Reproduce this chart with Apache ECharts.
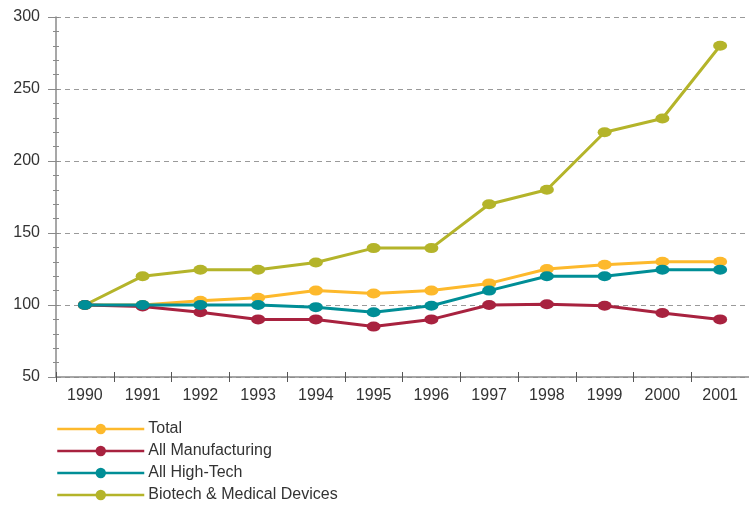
<!DOCTYPE html>
<html>
<head>
<meta charset="utf-8">
<script src="https://cdn.jsdelivr.net/npm/echarts@6/dist/echarts.min.js"></script>
<style>
  html, body { margin: 0; padding: 0; background: #fff; }
  #chart { width: 749px; height: 506px; }
</style>
</head>
<body>
<div id="chart"></div>
<script>
// years on the x axis
const years = ['1990', '1991', '1992', '1993', '1994', '1995', '1996', '1997', '1998', '1999', '2000', '2001']
// index values (1990 = 100)
const total = [100, 100, 103, 105, 110, 108, 110, 115, 125, 128, 130, 130]
const manufacturing = [100, 99, 95, 90, 90, 85, 90, 100, 100.5, 99.5, 94.5, 90]
const highTech = [100, 100, 100, 100, 98.5, 95, 99.5, 110, 120, 120, 124.5, 124.5]
const biotech = [100, 120, 124.5, 124.5, 129.5, 139.5, 139.5, 170, 180, 220, 229.5, 280]

const seriesNames = ['Total', 'All Manufacturing', 'All High-Tech', 'Biotech & Medical Devices']
const seriesColors = ['#fdb92c', '#a8223f', '#008e96', '#b4b42a']
const seriesData = [total, manufacturing, highTech, biotech]

const font = 'Liberation Sans, Arial, sans-serif'
const axisGray = '#8a8a8a'

const chart = echarts.init(document.getElementById('chart'))

// draw order: biotech first so the lower lines sit on top like the original
const order = [3, 0, 1, 2]

const option = {
  animation: false,
  grid: {
    left: 56,
    top: 17,
    width: 700,
    height: 360,
    containLabel: false
  },
  legend: {
    orient: 'vertical',
    left: 56,
    top: 421,
    padding: 0,
    itemWidth: 87,
    itemHeight: 13,
    itemGap: 6,
    data: seriesNames,
    lineStyle: { width: 2.5 },
    textStyle: { fontFamily: font, fontSize: 16, color: '#333', padding: [0, 0, 0, -1] }
  },
  xAxis: [
    {
      type: 'category',
      data: years,
      boundaryGap: true,
      axisLine: { lineStyle: { color: axisGray, width: 1.5 } },
      axisTick: { show: true, length: 5, lineStyle: { color: '#555', width: 1 } },
      axisLabel: { fontFamily: font, fontSize: 16, color: '#333', margin: 11 }
    },
    {
      // copy of the axis to draw the tick marks on the inner side too
      type: 'category',
      data: years,
      position: 'bottom',
      boundaryGap: true,
      axisLine: { show: false },
      axisTick: { show: true, inside: true, length: 5, lineStyle: { color: '#555', width: 1 } },
      axisLabel: { show: false }
    }
  ],
  yAxis: [
    {
      type: 'value',
      min: 50,
      max: 300,
      interval: 50,
      axisLine: { show: true, lineStyle: { color: axisGray, width: 1.5 } },
      axisTick: { show: true, length: 8, lineStyle: { color: axisGray } },
      minorTick: { show: true, splitNumber: 5, length: 3, lineStyle: { color: axisGray } },
      axisLabel: { fontFamily: font, fontSize: 16, color: '#333', margin: 16 },
      splitLine: {
        show: true,
        lineStyle: { color: '#9a9a9a', type: [5, 4], width: 1 }
      }
    },
    {
      // second copy only for the minor ticks on the inner side
      type: 'value',
      position: 'left',
      min: 50,
      max: 300,
      interval: 50,
      axisLine: { show: false },
      axisTick: { show: true, inside: true, length: 3, lineStyle: { color: axisGray } },
      minorTick: { show: true, splitNumber: 5, length: 3, lineStyle: { color: axisGray } },
      axisLabel: { show: false },
      splitLine: { show: false }
    }
  ],
  series: order.map(i => ({
    name: seriesNames[i],
    type: 'line',
    data: seriesData[i],
    symbol: 'circle',
    symbolSize: [14, 10],
    showAllSymbol: true,
    z: 2 + order.indexOf(i),
    lineStyle: { width: 3, color: seriesColors[i] },
    itemStyle: { color: seriesColors[i] }
  }))
}

chart.setOption(option)
</script>
</body>
</html>
